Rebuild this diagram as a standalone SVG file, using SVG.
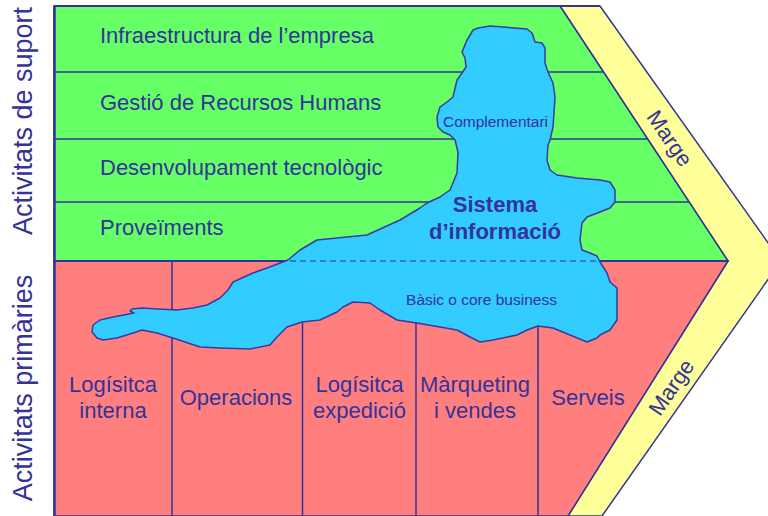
<svg xmlns="http://www.w3.org/2000/svg" width="768" height="516" viewBox="0 0 768 516">
<defs>
<style>
.ln{stroke:#333399;stroke-width:1.5;fill:none}
.t{font-family:"Liberation Sans",Arial,sans-serif;fill:#333399;font-size:22px}
.tc{text-anchor:middle}
.sm{font-size:15.5px}
.b{font-weight:bold}
.side{font-size:27px;text-anchor:middle}
</style>
</defs>
<rect width="768" height="516" fill="#ffffff"/>
<g id="marge">
<polygon points="560,6 600,6 781,261 602,516 568,516 728,261" fill="#ffff99" stroke="#333399" stroke-width="1.5"/>
<text class="t tc" transform="translate(670,138) rotate(55.5)" y="8">Marge</text>
<text class="t tc" transform="translate(671,387) rotate(-55.5)" y="8">Marge</text>
</g>
<g id="suport">
<polygon points="54,6 560,6 728,261 54,261" fill="#66ff66" stroke="#333399" stroke-width="1.5"/>
<line class="ln" x1="54" y1="72" x2="603" y2="72" stroke-width="1.2"/>
<line class="ln" x1="54" y1="139" x2="648" y2="139" stroke-width="1.2"/>
<line class="ln" x1="54" y1="202" x2="689" y2="202" stroke-width="1.2"/>
</g>
<g id="primaries">
<polygon points="54,261 728,261 568,516 54,516" fill="#ff7f7f" stroke="#333399" stroke-width="1.5"/>
<line class="ln" x1="172" y1="261" x2="172" y2="516" stroke-width="1.2"/>
<line class="ln" x1="302.5" y1="261" x2="302.5" y2="516" stroke-width="1.2"/>
<line class="ln" x1="416" y1="261" x2="416" y2="516" stroke-width="1.2"/>
<line class="ln" x1="538" y1="261" x2="538" y2="516" stroke-width="1.2"/>
</g>
<g id="frame">
<line x1="54" y1="6" x2="600" y2="6" stroke="#333399" stroke-width="2"/>
<line x1="54.5" y1="6" x2="54.5" y2="516" stroke="#333399" stroke-width="2.5"/>
<line x1="54" y1="261" x2="728" y2="261" stroke="#333399" stroke-width="2.2"/>
</g>
<g id="sistema-informacio">
<path d="M478,28 L490,26 L527,29 L532,33 L535,42 L542,43 L545,48 L545,63 L548,72 L553,83 L555,97 L554,113 L553,127 L550,140 L548,145 L547,160 L550,170 L557,175 L577,178 L600,180 L610,182 L615,190 L615,202 L610,208 L600,212 L587,217 L582,223 L580,240 L582,250 L590,253 L597,256 L600,262 L607,273 L610,282 L617,288 L617,307 L617,320 L610,330 L600,335 L597,338 L587,342 L570,335 L553,328 L538,326 L527,330 L517,335 L493,340 L480,342 L470,337 L457,330 L440,327 L417,323 L397,320 L380,310 L370,303 L353,302 L343,307 L337,312 L320,320 L302,322 L287,327 L277,337 L270,345 L250,349 L220,348 L200,347 L173,338 L157,333 L142,330 L133,333 L117,338 L103,340 L97,338 L92,332 L93,325 L100,320 L113,317 L134,313 L130,311 L132,309 L142,308 L158,309 L177,310 L193,308 L207,305 L220,298 L228,290 L233,282 L253,273 L267,268 L288,260 L300,250 L317,240 L367,235 L400,220 L420,208 L427,203 L440,197 L450,190 L457,173 L458,153 L457,148 L455,140 L450,135 L443,132 L438,127 L437,117 L440,107 L447,102 L453,97 L457,80 L462,73 L466,67 L465,58 L462,52 L467,40 L473,30 Z" fill="#33ccff" stroke="#3a3aa0" stroke-width="1.5" stroke-linejoin="round"/>
<line x1="290" y1="261" x2="598" y2="261" stroke="#333399" stroke-width="1.2" stroke-dasharray="6,4"/>
<text class="t tc sm" x="495.5" y="127">Complementari</text>
<text class="t tc b" x="495" y="212">Sistema</text>
<text class="t tc b" x="495" y="239">d’informació</text>
<text class="t tc sm" x="481.5" y="305">Bàsic o core business</text>
</g>
<g id="labels-suport">
<text class="t" x="100" y="43">Infraestructura de l’empresa</text>
<text class="t" x="100" y="110">Gestió de Recursos Humans</text>
<text class="t" x="100" y="175">Desenvolupament tecnològic</text>
<text class="t" x="100" y="235">Proveïments</text>
</g>
<g id="labels-primaries">
<text class="t tc" x="113" y="392">Logísitca</text>
<text class="t tc" x="113" y="418">interna</text>
<text class="t tc" x="236" y="405">Operacions</text>
<text class="t tc" x="359.5" y="392">Logísitca</text>
<text class="t tc" x="359.5" y="418">expedició</text>
<text class="t tc" x="475" y="392">Màrqueting</text>
<text class="t tc" x="475" y="418">i vendes</text>
<text class="t tc" x="588" y="405">Serveis</text>
</g>
<g id="side-labels">
<text class="t side" transform="translate(32,121) rotate(-90)">Activitats de suport</text>
<text class="t side" transform="translate(32,388) rotate(-90)">Activitats primàries</text>
</g>
</svg>
